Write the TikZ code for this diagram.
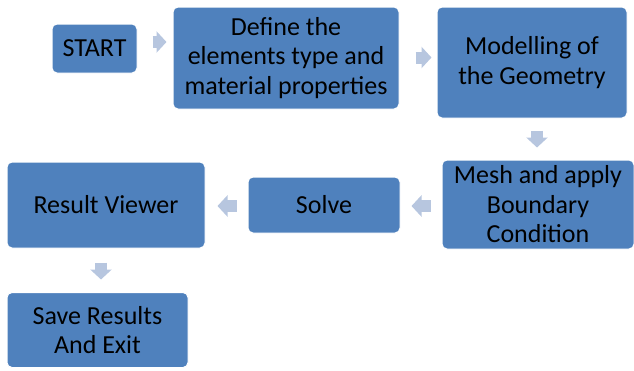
\documentclass[tikz,border=0pt]{standalone}
\usepackage{fontspec}
\setmainfont{Carlito}
\usepackage{xcolor}
\usetikzlibrary{arrows.meta}

\definecolor{boxblue}{HTML}{4F81BD}
\definecolor{arrowblue}{HTML}{B7C6DF}

\tikzset{
	stage/.style = {draw = white, line width = 1pt, fill = boxblue, rounded corners = 5pt,
		align = center, inner sep = 2pt,
		font = \fontsize{26}{29.5}\selectfont},
	flow/.style = {draw = arrowblue, line width = 12pt,
		-{Triangle[length = 10pt, width = 21pt]}}
}

\begin{document}
\begin{tikzpicture}[x = 1pt, y = -1pt]
	\useasboundingbox (0,0) rectangle (634,370);

	% top row
	\node [stage, minimum width = 85pt, minimum height = 49pt] (start) at (94.5,48.5) {START};
	\node [stage, minimum width = 226pt, minimum height = 102pt] (define) at (286,58) {Define the\\elements type and\\material properties};
	\node [stage, minimum width = 190pt, minimum height = 111pt] (model) at (532,62.5) {Modelling of\\the Geometry};

	% middle row
	\node [stage, minimum width = 192pt, minimum height = 89pt] (mesh) at (538,204.5) {Mesh and apply\\Boundary\\Condition};
	\node [stage, minimum width = 152pt, minimum height = 56pt] (solve) at (324,205) {Solve};
	\node [stage, minimum width = 198pt, minimum height = 86pt] (result) at (106,205) {Result Viewer};

	% bottom row
	\node [stage, minimum width = 181pt, minimum height = 75pt] (save) at (97.5,330) {Save Results\\And Exit};

	\draw [flow] ([shift = {(15pt,6.5pt)}]start.east) -- ([shift = {(-6pt,16pt)}]define.west);
	\draw [flow] ([shift = {(16pt,0.5pt)}]define.east) -- ([shift = {(-5pt,5pt)}]model.west);
	\draw [flow] ([shift = {(5pt,-12pt)}]model.south) -- ([shift = {(-1pt,12pt)}]mesh.north);
	\draw [flow] ([shift = {(-11pt,-1.5pt)}]mesh.west) -- ([shift = {(11pt,-1pt)}]solve.east);
	\draw [flow] ([shift = {(-11pt,-1pt)}]solve.west) -- ([shift = {(12pt,-1pt)}]result.east);
	\draw [flow] ([shift = {(-5pt,-14pt)}]result.south) -- ([shift = {(3.5pt,12.5pt)}]save.north);
\end{tikzpicture}
\end{document}
